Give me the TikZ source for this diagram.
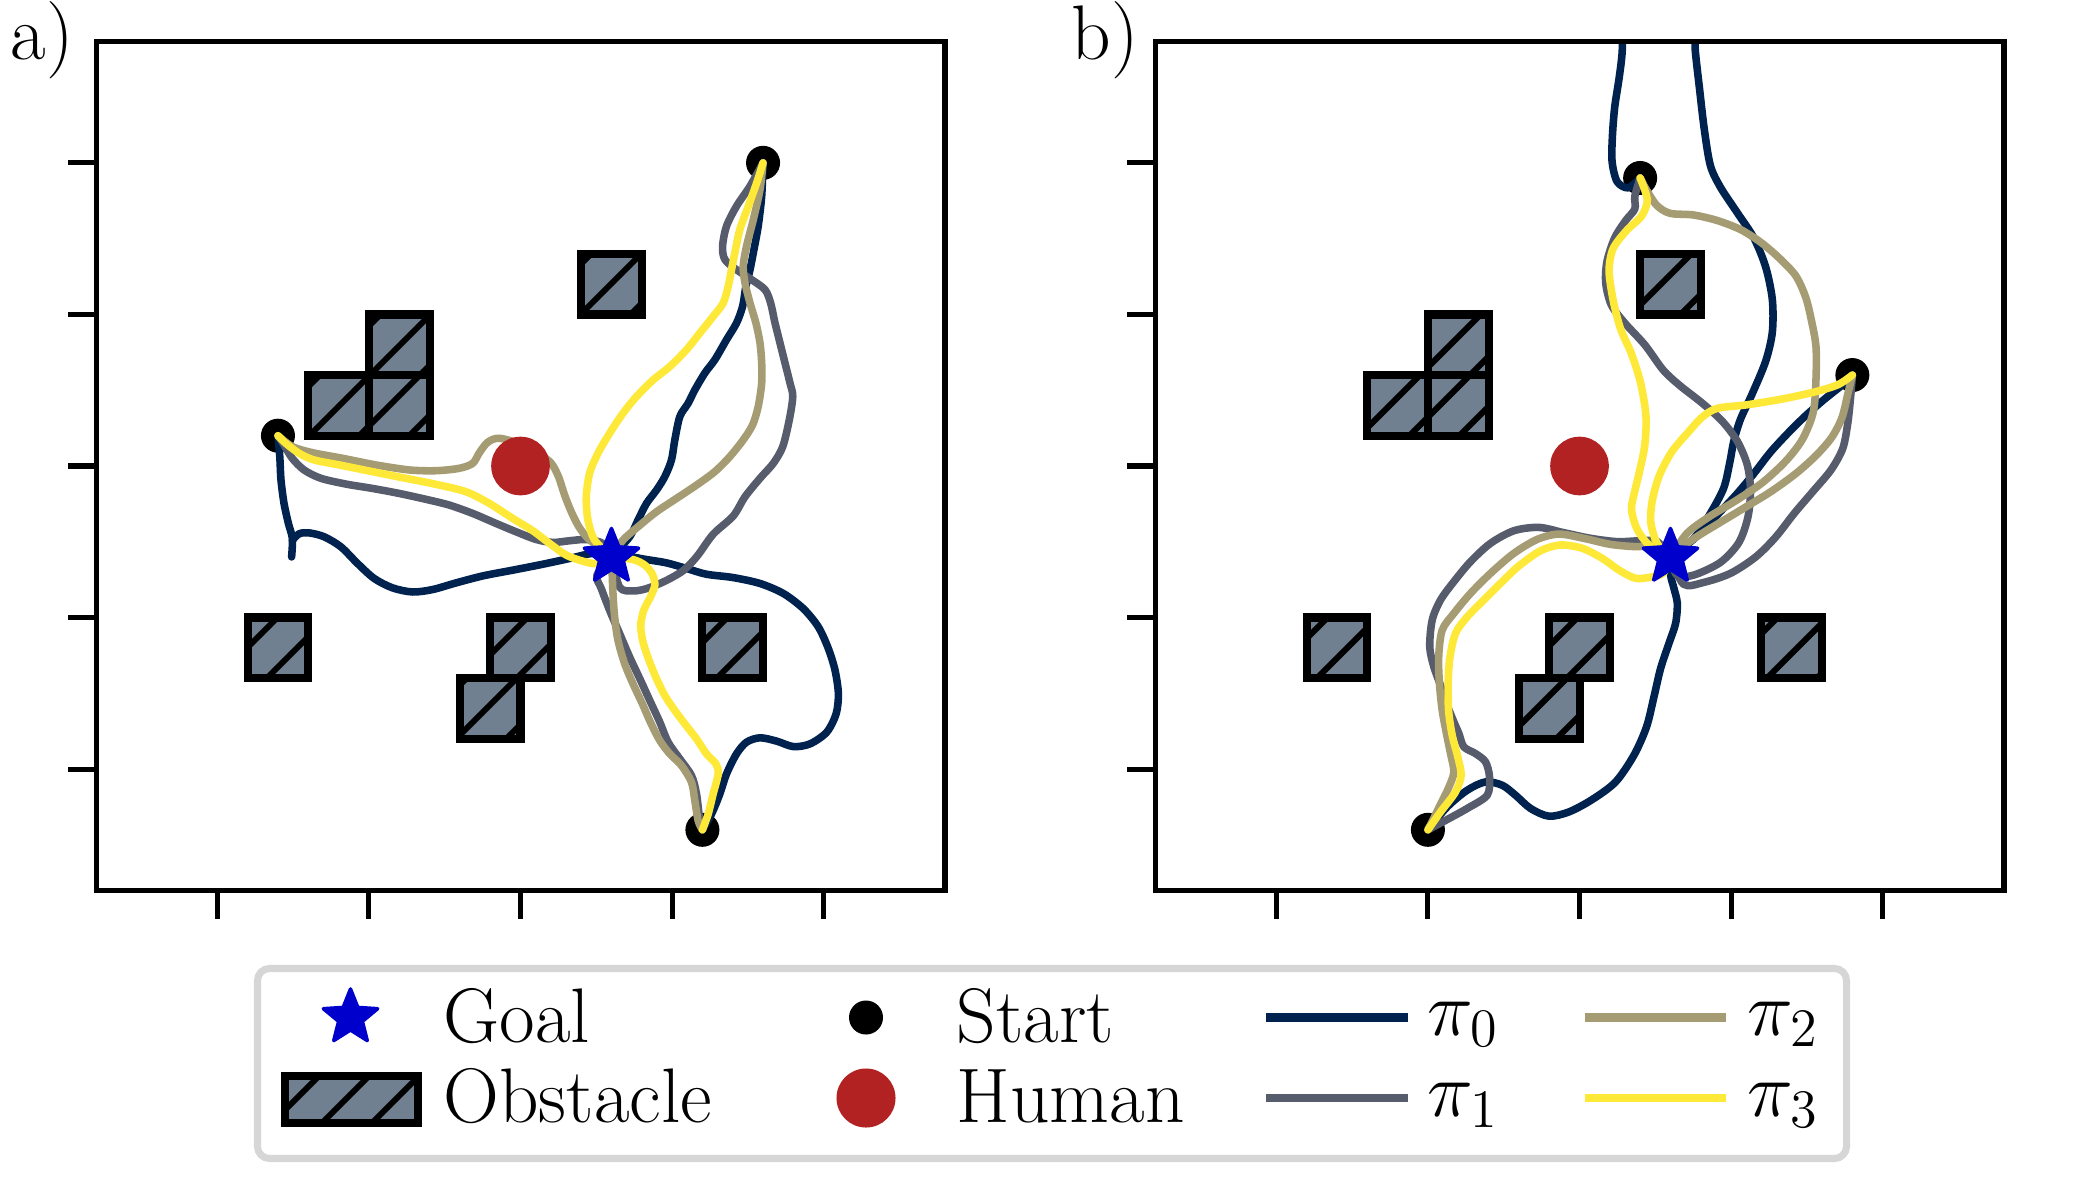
\RequirePackage{fix-cm}
\documentclass[tikz,border=0pt]{standalone}
\usepackage{fontspec}
\usetikzlibrary{calc}

\definecolor{pinavy}{HTML}{00224E}
\definecolor{pigray}{HTML}{575C6D}
\definecolor{pikhaki}{HTML}{A59C74}
\definecolor{piyellow}{HTML}{FEE838}
\definecolor{slate}{HTML}{708090}
\definecolor{humanred}{HTML}{B22222}
\definecolor{goalblue}{HTML}{0000CD}
\definecolor{legframe}{HTML}{D6D6D6}

\tikzset{
  traj/.style={line width=2.15pt, line cap=round, line join=round},
  hatchline/.style={line width=1.7pt, black},
  obstedge/.style={line width=2.28pt, black},
  framestyle/.style={line width=1.45pt, black},
  legline/.style={line width=2.3pt},
}

% hatched obstacle box in picture (px) coordinates, global hatch phase
\newcommand\hatchbox[4]{%
  \pgfmathsetmacro\hxa{#1}\pgfmathsetmacro\hya{#2}%
  \pgfmathsetmacro\hxb{#3}\pgfmathsetmacro\hyb{#4}%
  \pgfmathtruncatemacro\kmin{floor((\hxa+\hya-45)/50)}%
  \pgfmathtruncatemacro\kmax{ceil((\hxb+\hyb-45)/50)}%
  \fill[slate] (\hxa,\hya) rectangle (\hxb,\hyb);
  \begin{scope}
    \clip (\hxa,\hya) rectangle (\hxb,\hyb);
    \foreach \k in {\kmin,...,\kmax}{
      \pgfmathsetmacro\cc{45+50*\k}
      \draw[hatchline] (\cc-\hya+10,\hya-10) -- (\cc-\hyb-10,\hyb+10);
    }
  \end{scope}
  \draw[obstedge] (\hxa,\hya) rectangle (\hxb,\hyb);
}
\newcommand\obstacles[1]{%
  \foreach \ou/\ov in {0.6/1.2, -0.8/0.8, -1.2/0.4, -0.8/0.4, -1.6/-1.2, 0/-1.2, -0.2/-1.6, 1.4/-1.2}{
    \pgfmathsetmacro\ocx{#1+151.5*\ou}
    \pgfmathsetmacro\ocy{466-151.5*\ov}
    \hatchbox{\ocx-30.3}{\ocy-30.3}{\ocx+30.3}{\ocy+30.3}
  }}
\newcommand\goalstar[1]{%
  \filldraw[goalblue, line width=1pt, line join=round]
  ([shift={(90:0.285cm)}]#1) -- ([shift={(126:0.125cm)}]#1) --
  ([shift={(162:0.285cm)}]#1) -- ([shift={(198:0.125cm)}]#1) --
  ([shift={(234:0.285cm)}]#1) -- ([shift={(270:0.125cm)}]#1) --
  ([shift={(306:0.285cm)}]#1) -- ([shift={(342:0.125cm)}]#1) --
  ([shift={(18:0.285cm)}]#1) -- ([shift={(54:0.125cm)}]#1) -- cycle;}
\newcommand\traj[2]{\draw[traj,#1] plot[smooth, tension=0.5] coordinates {#2};}
\newcommand\axesframe{%
  \draw[framestyle] (-2.8,-2.8) rectangle (2.8,2.8);
  \foreach \t in {-2,-1,0,1,2}{
    \draw[framestyle] (-2.8,\t) -- (-2.985,\t);
    \draw[framestyle] (\t,-2.8) -- (\t,-2.985);
  }}

\begin{document}
\begin{tikzpicture}[x=0.01cm, y=-0.01cm,
  every node/.style={font=\fontsize{22}{26}\selectfont, inner sep=0pt}]
\useasboundingbox (0,0) rectangle (2100,1200);
\fill[white] (0,0) rectangle (2100,1200);

% ---------------- panel a ----------------
\obstacles{520.5}
\begin{scope}[shift={(520.5,466)}, x=1.515cm, y=1.515cm]
  \begin{scope}
  \clip (-2.8,-2.8) rectangle (2.8,2.8);
  \coordinate (sa1) at (1.6,2.0);
  \coordinate (sa2) at (-1.6,0.2);
  \coordinate (sa3) at (1.2,-2.4);
  \coordinate (ga) at (0.6,-0.6);
  \coordinate (ha) at (0,0);
  \foreach \s in {sa1,sa2,sa3} \fill[black] (\s) circle[radius=0.17cm];
  % pi0
  \traj{pinavy}{(1.6,2.0) (1.591,1.78) (1.568,1.582) (1.54,1.428) (1.514,1.295) (1.487,1.185) (1.465,1.053) (1.425,0.943) (1.359,0.833) (1.282,0.701) (1.216,0.613) (1.15,0.502) (1.106,0.414) (1.051,0.326) (1.018,0.172) (0.996,0.04) (0.952,-0.07) (0.897,-0.159) (0.831,-0.247) (0.775,-0.357) (0.72,-0.467) (0.6,-0.6)}
  \traj{pinavy}{(-1.6,0.2) (-1.588,0.062) (-1.58,-0.093) (-1.56,-0.247) (-1.531,-0.379) (-1.505,-0.478) (-1.51,-0.6)}
  \traj{pinavy}{(-1.505,-0.49) (-1.46,-0.447) (-1.395,-0.441) (-1.295,-0.467) (-1.185,-0.533) (-1.075,-0.643) (-0.965,-0.742) (-0.844,-0.804) (-0.712,-0.831) (-0.58,-0.815) (-0.425,-0.771) (-0.249,-0.725) (-0.051,-0.687) (0.147,-0.648) (0.324,-0.61) (0.478,-0.577) (0.6,-0.6)}
  \traj{pinavy}{(1.2,-2.4) (1.26,-2.296) (1.315,-2.163) (1.359,-2.031) (1.425,-1.899) (1.491,-1.822) (1.58,-1.793) (1.69,-1.815) (1.8,-1.851) (1.91,-1.833) (2.02,-1.756) (2.082,-1.635) (2.097,-1.502) (2.075,-1.348) (2.031,-1.205) (1.965,-1.062) (1.866,-0.941) (1.734,-0.841) (1.58,-0.775) (1.403,-0.736) (1.227,-0.714) (1.095,-0.676) (0.963,-0.639) (0.831,-0.617) (0.72,-0.599) (0.6,-0.6)}
  % pi1
  \traj{pigray}{(1.6,2.0) (1.514,1.846) (1.425,1.714) (1.359,1.582) (1.333,1.45) (1.348,1.362) (1.425,1.295) (1.525,1.229) (1.613,1.163) (1.65,1.075) (1.679,0.943) (1.712,0.811) (1.745,0.679) (1.778,0.546) (1.796,0.458) (1.773,0.304) (1.73,0.128) (1.668,0.018) (1.58,-0.081) (1.481,-0.203) (1.403,-0.33) (1.271,-0.45) (1.165,-0.595) (1.073,-0.69) (0.952,-0.76) (0.831,-0.809) (0.742,-0.824) (0.654,-0.8) (0.6,-0.6)}
  \traj{pigray}{(-1.6,0.2) (-1.56,0.139) (-1.506,0.051) (-1.428,-0.026) (-1.317,-0.081) (-1.152,-0.119) (-0.976,-0.148) (-0.8,-0.181) (-0.623,-0.22) (-0.469,-0.258) (-0.315,-0.313) (-0.161,-0.379) (-0.029,-0.434) (0.104,-0.485) (0.214,-0.504) (0.324,-0.493) (0.434,-0.485) (0.544,-0.511) (0.6,-0.6)}
  \traj{pigray}{(1.2,-2.4) (1.183,-2.34) (1.161,-2.163) (1.128,-2.042) (1.051,-1.932) (0.974,-1.822) (0.919,-1.69) (0.853,-1.547) (0.787,-1.403) (0.72,-1.26) (0.654,-1.106) (0.588,-0.952) (0.533,-0.809) (0.504,-0.72) (0.6,-0.6)}
  % pi2
  \traj{pikhaki}{(1.6,2.0) (1.58,1.824) (1.536,1.626) (1.491,1.45) (1.469,1.317) (1.481,1.207) (1.514,1.075) (1.553,0.943) (1.58,0.811) (1.591,0.679) (1.591,0.546) (1.568,0.392) (1.531,0.271) (1.469,0.172) (1.381,0.062) (1.282,-0.037) (1.161,-0.126) (1.029,-0.214) (0.897,-0.302) (0.775,-0.401) (0.676,-0.489) (0.6,-0.6)}
  \traj{pikhaki}{(-1.6,0.2) (-1.505,0.128) (-1.373,0.088) (-1.174,0.051) (-0.954,0.007) (-0.734,-0.026) (-0.557,-0.031) (-0.403,-0.015) (-0.315,0.018) (-0.271,0.088) (-0.216,0.157) (-0.139,0.183) (0.015,0.14) (0.13,0.075) (0.203,0.018) (0.251,-0.071) (0.291,-0.192) (0.335,-0.302) (0.385,-0.401) (0.445,-0.478) (0.511,-0.529) (0.6,-0.6)}
  \traj{pikhaki}{(1.2,-2.4) (1.172,-2.34) (1.15,-2.208) (1.128,-2.086) (1.062,-1.976) (0.985,-1.899) (0.919,-1.811) (0.857,-1.69) (0.804,-1.569) (0.742,-1.436) (0.687,-1.304) (0.643,-1.15) (0.621,-0.996) (0.61,-0.841) (0.604,-0.687) (0.6,-0.6)}
  % pi3
  \traj{piyellow}{(1.6,2.0) (1.558,1.868) (1.503,1.714) (1.447,1.56) (1.414,1.406) (1.392,1.295) (1.37,1.185) (1.337,1.075) (1.271,0.987) (1.183,0.877) (1.095,0.767) (0.985,0.656) (0.875,0.568) (0.765,0.458) (0.676,0.348) (0.588,0.216) (0.511,0.084) (0.456,-0.048) (0.434,-0.203) (0.445,-0.357) (0.489,-0.489) (0.6,-0.6)}
  \traj{piyellow}{(-1.6,0.2) (-1.549,0.15) (-1.461,0.084) (-1.362,0.04) (-1.196,0.007) (-0.998,-0.033) (-0.778,-0.077) (-0.557,-0.121) (-0.359,-0.17) (-0.205,-0.247) (-0.051,-0.346) (0.081,-0.427) (0.192,-0.511) (0.302,-0.588) (0.412,-0.628) (0.5,-0.643) (0.6,-0.6)}
  \traj{piyellow}{(1.2,-2.4) (1.238,-2.296) (1.271,-2.163) (1.304,-2.031) (1.289,-1.965) (1.227,-1.899) (1.161,-1.8) (1.084,-1.701) (1.018,-1.613) (0.952,-1.514) (0.897,-1.403) (0.848,-1.282) (0.808,-1.161) (0.793,-1.051) (0.813,-0.952) (0.857,-0.864) (0.886,-0.787) (0.87,-0.714) (0.82,-0.654) (0.742,-0.617) (0.6,-0.6)}
  \fill[humanred] (ha) circle[radius=0.293cm];
  \goalstar{ga}
  \end{scope}
  \axesframe
\end{scope}

% ---------------- panel b ----------------
\obstacles{1579.5}
\begin{scope}[shift={(1579.5,466)}, x=1.515cm, y=1.515cm]
  \begin{scope}
  \clip (-2.8,-2.8) rectangle (2.8,2.8);
  \coordinate (sb1) at (0.4,1.9);
  \coordinate (sb2) at (1.8,0.6);
  \coordinate (sb3) at (-1.0,-2.4);
  \coordinate (gb) at (0.6,-0.6);
  \coordinate (hb) at (0,0);
  \foreach \s in {sb1,sb2,sb3} \fill[black] (\s) circle[radius=0.17cm];
  % pi0
  \traj{pinavy}{(0.4,1.9) (0.321,1.835) (0.248,1.876) (0.215,2.007) (0.217,2.175) (0.232,2.366) (0.261,2.557) (0.281,2.725) (0.29,2.96) (0.35,3.2) (0.55,3.25) (0.75,3.0) (0.763,2.749) (0.792,2.486) (0.823,2.222) (0.863,1.983) (0.929,1.84) (1.04,1.672) (1.15,1.505) (1.228,1.313) (1.272,1.098) (1.272,0.883) (1.228,0.691) (1.139,0.476) (1.062,0.309) (1.018,0.165) (0.991,0.022) (0.951,-0.146) (0.863,-0.313) (0.752,-0.481) (0.6,-0.6)}
  \traj{pinavy}{(1.8,0.6) (1.726,0.529) (1.615,0.44) (1.493,0.333) (1.383,0.225) (1.261,0.093) (1.15,-0.05) (1.04,-0.182) (0.918,-0.313) (0.796,-0.445) (0.6,-0.6)}
  \traj{pinavy}{(-1.0,-2.4) (-0.873,-2.249) (-0.741,-2.139) (-0.62,-2.084) (-0.51,-2.106) (-0.422,-2.172) (-0.323,-2.259) (-0.202,-2.31) (-0.07,-2.282) (0.084,-2.2) (0.238,-2.084) (0.359,-1.908) (0.442,-1.721) (0.491,-1.523) (0.535,-1.335) (0.59,-1.17) (0.634,-1.038) (0.645,-0.906) (0.623,-0.807) (0.601,-0.72) (0.6,-0.6)}
  % pi1
  \traj{pigray}{(0.4,1.9) (0.365,1.78) (0.365,1.696) (0.305,1.62) (0.232,1.505) (0.181,1.349) (0.173,1.206) (0.21,1.062) (0.299,0.943) (0.431,0.799) (0.553,0.632) (0.664,0.529) (0.808,0.416) (0.94,0.297) (1.04,0.165) (1.106,0.01) (1.128,-0.158) (1.111,-0.337) (1.051,-0.505) (0.929,-0.636) (0.752,-0.72) (0.642,-0.72) (0.6,-0.6)}
  \traj{pigray}{(1.8,0.6) (1.788,0.452) (1.77,0.285) (1.737,0.117) (1.659,-0.026) (1.538,-0.17) (1.416,-0.313) (1.294,-0.469) (1.162,-0.6) (0.996,-0.708) (0.819,-0.768) (0.686,-0.78) (0.6,-0.6)}
  \traj{pigray}{(-1.0,-2.4) (-0.873,-2.332) (-0.741,-2.259) (-0.609,-2.172) (-0.594,-2.051) (-0.62,-1.952) (-0.686,-1.897) (-0.763,-1.853) (-0.796,-1.764) (-0.829,-1.688) (-0.873,-1.578) (-0.917,-1.446) (-0.961,-1.325) (-0.988,-1.193) (-0.972,-1.017) (-0.917,-0.884) (-0.829,-0.763) (-0.719,-0.631) (-0.587,-0.51) (-0.433,-0.427) (-0.268,-0.405) (-0.103,-0.44) (0.073,-0.477) (0.249,-0.499) (0.403,-0.493) (0.513,-0.499) (0.6,-0.6)}
  % pi2
  \traj{pikhaki}{(0.4,1.9) (0.438,1.828) (0.509,1.72) (0.597,1.667) (0.752,1.656) (0.907,1.62) (1.062,1.56) (1.195,1.476) (1.316,1.373) (1.427,1.254) (1.493,1.11) (1.531,0.955) (1.56,0.787) (1.56,0.572) (1.542,0.356) (1.471,0.177) (1.361,0.033) (1.206,-0.11) (1.029,-0.23) (0.852,-0.337) (0.708,-0.445) (0.6,-0.6)}
  \traj{pikhaki}{(1.8,0.6) (1.77,0.476) (1.732,0.321) (1.664,0.189) (1.56,0.069) (1.427,-0.05) (1.261,-0.17) (1.084,-0.278) (0.907,-0.385) (0.752,-0.481) (0.6,-0.6)}
  \traj{pikhaki}{(-1.0,-2.4) (-0.95,-2.3) (-0.917,-2.231) (-0.863,-2.121) (-0.829,-2.018) (-0.851,-1.897) (-0.878,-1.764) (-0.906,-1.611) (-0.924,-1.434) (-0.929,-1.259) (-0.906,-1.083) (-0.829,-0.972) (-0.719,-0.84) (-0.587,-0.708) (-0.433,-0.576) (-0.279,-0.484) (-0.136,-0.449) (0.028,-0.477) (0.205,-0.517) (0.381,-0.532) (0.513,-0.521) (0.6,-0.6)}
  % pi3
  \traj{piyellow}{(0.4,1.9) (0.447,1.756) (0.409,1.648) (0.31,1.553) (0.221,1.433) (0.195,1.289) (0.221,1.098) (0.27,0.907) (0.343,0.739) (0.403,0.548) (0.438,0.333) (0.431,0.141) (0.398,-0.026) (0.358,-0.194) (0.343,-0.289) (0.376,-0.409) (0.442,-0.505) (0.52,-0.565) (0.6,-0.6)}
  \traj{piyellow}{(1.8,0.6) (1.704,0.536) (1.549,0.488) (1.327,0.44) (1.106,0.404) (0.907,0.38) (0.808,0.321) (0.719,0.225) (0.608,0.093) (0.527,-0.062) (0.482,-0.218) (0.469,-0.361) (0.498,-0.481) (0.542,-0.553) (0.6,-0.6)}
  \traj{piyellow}{(-1.0,-2.4) (-0.917,-2.282) (-0.818,-2.15) (-0.781,-2.04) (-0.803,-1.919) (-0.84,-1.776) (-0.863,-1.622) (-0.867,-1.457) (-0.856,-1.27) (-0.818,-1.104) (-0.741,-0.995) (-0.632,-0.884) (-0.51,-0.763) (-0.401,-0.66) (-0.257,-0.559) (-0.125,-0.521) (0.018,-0.543) (0.15,-0.609) (0.259,-0.686) (0.37,-0.741) (0.48,-0.731) (0.556,-0.704) (0.6,-0.6)}
  \fill[humanred] (hb) circle[radius=0.293cm];
  \goalstar{gb}
  \end{scope}
  \axesframe
\end{scope}

% panel labels
\node[anchor=base west] (la) at (10,59) {a)};
\node[anchor=base west] (lb) at (1071,59) {b)};

% ---------------- legend ----------------
\draw[legframe, fill=white, line width=2pt, rounded corners=0.12cm] (257.5,968.5) rectangle (1846.5,1158.5);
\coordinate (lgoal) at (350.5,1017.5);
\goalstar{lgoal}
\node[anchor=base west] (tgoal) at (443,1042) {Goal};
\hatchbox{285}{1076}{418}{1123}
\node[anchor=base west] (tobst) at (443,1122) {Obstacle};
\coordinate (lstart) at (866,1017.5);
\fill[black] (lstart) circle[radius=0.17cm];
\node[anchor=base west] (tstart) at (956,1042) {Start};
\coordinate (lhuman) at (866,1098);
\fill[humanred] (lhuman) circle[radius=0.295cm];
\node[anchor=base west] (thuman) at (956,1122) {Human};
\draw[legline, pinavy] (1266,1017.5) -- (1408,1017.5);
\node[anchor=base west] (tp0) at (1427,1035) {$\pi_0$};
\draw[legline, pigray] (1266,1098) -- (1408,1098);
\node[anchor=base west] (tp1) at (1427,1116) {$\pi_1$};
\draw[legline, pikhaki] (1585,1017.5) -- (1726,1017.5);
\node[anchor=base west] (tp2) at (1747,1035) {$\pi_2$};
\draw[legline, piyellow] (1585,1098) -- (1726,1098);
\node[anchor=base west] (tp3) at (1747,1116) {$\pi_3$};
\end{tikzpicture}
\end{document}
